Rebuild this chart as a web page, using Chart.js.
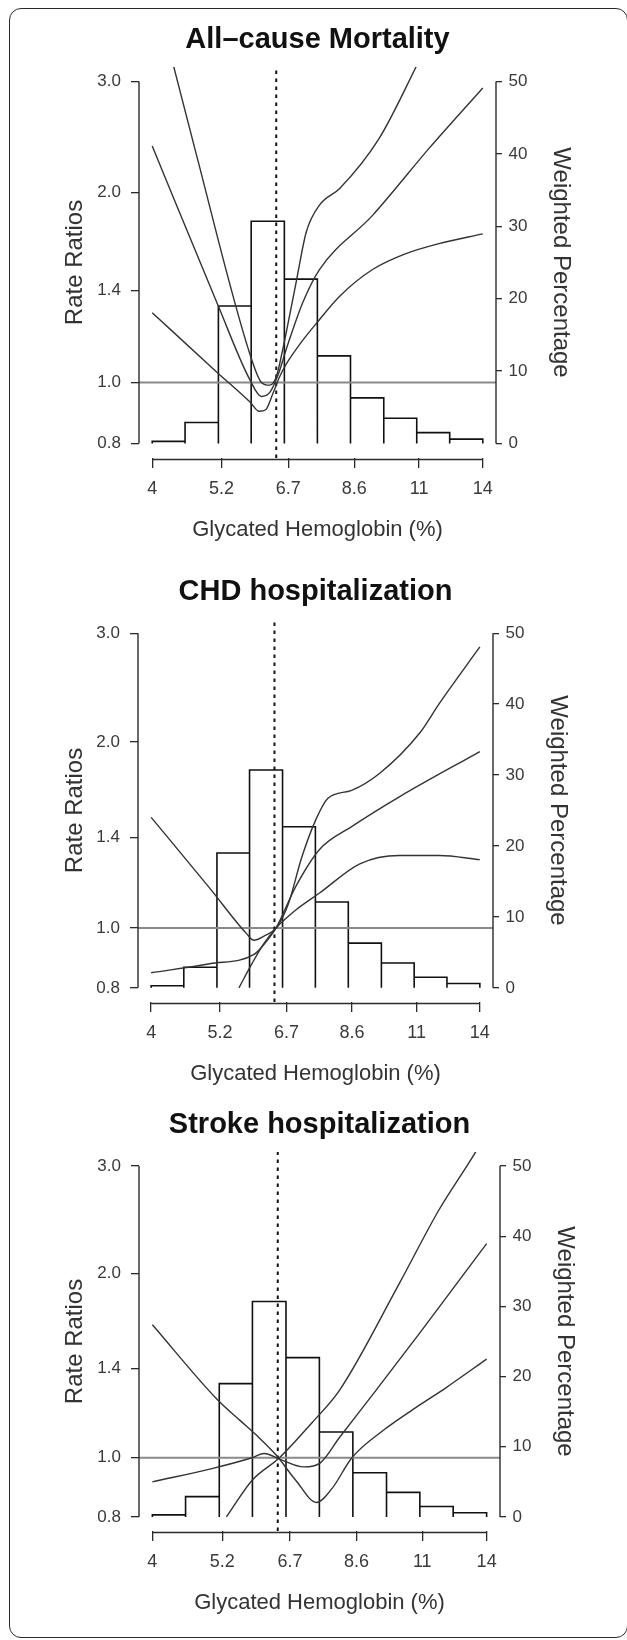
<!DOCTYPE html>
<html>
<head>
<meta charset="utf-8">
<script src="https://cdn.jsdelivr.net/npm/chart.js@4.4.1/dist/chart.umd.min.js"></script>
<style>
  html, body { margin: 0; padding: 0; background: #fff; }
  body { width: 627px; height: 1640px; position: relative; overflow: hidden; }
  #marco { position: absolute; left: 9px; top: 8px; width: 619px; height: 1630px;
           border: 1.5px solid #2a2a2a; border-radius: 12px; box-sizing: border-box; }
  canvas { position: absolute; left: 0; }
</style>
</head>
<body>
<div id="marco"></div>
<canvas id="panel1"></canvas>
<canvas id="panel2"></canvas>
<canvas id="panel3"></canvas>
<script>
// Ejes compartidos
const X_TICKS = [4, 5.2, 6.7, 8.6, 11, 14];
const X_LABELS = ["4", "5.2", "6.7", "8.6", "11", "14"];
const RR_TICKS = [0.8, 1.0, 1.4, 2.0, 3.0];
const RR_LABELS = ["0.8", "1.0", "1.4", "2.0", "3.0"];
const PCT_TICKS = [0, 10, 20, 30, 40, 50];

// Histograma (porcentaje ponderado por intervalo de HbA1c)
const HIST_EDGES = [4.0, 4.53, 5.14, 5.82, 6.6, 7.48, 8.48, 9.62, 10.9, 12.35, 14.0];
const HIST_PCT = [0.3, 2.9, 19.0, 30.7, 22.7, 12.1, 6.3, 3.5, 1.5, 0.6];
const HBA1C_REF = 6.4;

// All-cause Mortality
const MORT_INF_X = [4.0, 5.1, 5.8, 6.0, 6.15, 6.32, 6.48, 6.65, 7.0, 7.45, 8.14, 9.22, 10.46, 11.86, 14.0];
const MORT_INF_Y = [1.29, 1.04, 0.93, 0.90, 0.905, 0.96, 1.02, 1.07, 1.15, 1.24, 1.37, 1.51, 1.60, 1.66, 1.72];
const MORT_EST_X = [4.0, 5.14, 5.79, 6.05, 6.25, 6.45, 6.65, 7.08, 7.54, 9.22, 11.42, 14.0];
const MORT_EST_Y = [2.37, 1.32, 1.01, 0.95, 0.965, 1.03, 1.13, 1.34, 1.51, 1.84, 2.35, 2.93];
const MORT_SUP_X = [4.0, 4.7, 5.79, 6.05, 6.24, 6.4, 6.55, 6.9, 7.17, 7.54, 8.14, 9.46, 10.9, 11.6];
const MORT_SUP_Y = [4.3, 2.35, 1.11, 1.0, 0.99, 1.02, 1.12, 1.44, 1.73, 1.91, 2.03, 2.44, 3.18, 3.6];

// CHD hospitalization
const CHD_SUP_X = [4.0, 5.0, 5.75, 5.92, 6.15, 6.44, 6.74, 7.1, 7.5, 7.84, 8.59, 9.56, 11.14, 12.0, 14.0];
const CHD_SUP_Y = [1.51, 1.16, 0.98, 0.955, 0.97, 1.0, 1.09, 1.30, 1.50, 1.62, 1.67, 1.78, 2.07, 2.31, 2.85];
const CHD_EST_X = [4.0, 5.0, 5.92, 6.2, 6.44, 6.95, 7.6, 8.6, 10.3, 14.0];
const CHD_EST_Y = [0.846, 0.875, 0.906, 0.95, 1.0, 1.17, 1.34, 1.46, 1.63, 1.93];
const CHD_INF_X = [5.59, 5.88, 6.15, 6.44, 6.95, 7.61, 8.86, 10.3, 12.0, 14.0];
const CHD_INF_Y = [0.80, 0.877, 0.944, 1.0, 1.07, 1.14, 1.27, 1.31, 1.31, 1.29];

// Stroke hospitalization
const ICTUS_A_X = [4.0, 5.12, 5.56, 5.9, 6.36, 6.85, 7.4, 7.84, 8.45, 9.52, 10.9, 12.0, 14.0];
const ICTUS_A_Y = [1.65, 1.24, 1.15, 1.09, 1.01, 0.918, 0.845, 0.89, 1.0, 1.11, 1.22, 1.30, 1.45];
const ICTUS_EST_X = [4.0, 5.0, 5.81, 6.08, 6.44, 7.06, 7.5, 8.07, 9.2, 10.9, 14.0];
const ICTUS_EST_Y = [0.913, 0.96, 1.0, 1.016, 0.995, 0.966, 0.98, 1.08, 1.28, 1.60, 2.24];
const ICTUS_B_X = [5.28, 5.81, 6.44, 7.27, 8.07, 10.1, 11.7, 13.4, 14.0];
const ICTUS_B_Y = [0.80, 0.918, 1.0, 1.14, 1.29, 1.93, 2.54, 3.15, 3.4];

const FUENTE = "'Liberation Sans', Arial, Helvetica, sans-serif";
const ANCHO = 627;
const MARGEN_SUP = 67;
const MARGEN_INF = 87;

// rango con 4% extra por lado en escala logarítmica (como R)
function rangoLog(a, b) {
  const d = Math.log(b / a) * 0.04;
  return [a * Math.exp(-d), b * Math.exp(d)];
}
const [X_MIN, X_MAX] = rangoLog(X_TICKS[0], X_TICKS[X_TICKS.length - 1]);
const [RR_MIN, RR_MAX] = rangoLog(RR_TICKS[0], RR_TICKS[RR_TICKS.length - 1]);
const PCT_MIN = -2;
const PCT_MAX = 52;

const PANELES = [
  {
    id: "panel1", titulo: "All\u2013cause Mortality",
    top: 67, bottom: 458, left: 139, right: 496,
    curvas: [[MORT_INF_X, MORT_INF_Y], [MORT_EST_X, MORT_EST_Y], [MORT_SUP_X, MORT_SUP_Y]],
  },
  {
    id: "panel2", titulo: "CHD hospitalization",
    top: 619, bottom: 1002, left: 138, right: 493,
    curvas: [[CHD_INF_X, CHD_INF_Y], [CHD_EST_X, CHD_EST_Y], [CHD_SUP_X, CHD_SUP_Y]],
  },
  {
    id: "panel3", titulo: "Stroke hospitalization",
    top: 1152, bottom: 1531, left: 139, right: 500,
    curvas: [[ICTUS_A_X, ICTUS_A_Y], [ICTUS_EST_X, ICTUS_EST_Y], [ICTUS_B_X, ICTUS_B_Y]],
  },
];

// Ejes al estilo R: la línea va sólo del primer al último tick
const ejesEstiloR = {
  id: "ejesEstiloR",
  afterDraw(chart) {
    const { ctx, chartArea, scales } = chart;
    ctx.save();
    ctx.strokeStyle = "#2b2b2b";
    ctx.lineWidth = 1.4;
    ctx.beginPath();
    ctx.moveTo(chartArea.left, scales.y.getPixelForValue(RR_TICKS[0]));
    ctx.lineTo(chartArea.left, scales.y.getPixelForValue(RR_TICKS[RR_TICKS.length - 1]));
    ctx.moveTo(chartArea.right, scales.y2.getPixelForValue(PCT_TICKS[0]));
    ctx.lineTo(chartArea.right, scales.y2.getPixelForValue(PCT_TICKS[PCT_TICKS.length - 1]));
    const yEje = chartArea.bottom + 1.5;
    ctx.moveTo(scales.x.getPixelForValue(X_TICKS[0]), yEje);
    ctx.lineTo(scales.x.getPixelForValue(X_TICKS[X_TICKS.length - 1]), yEje);
    ctx.stroke();
    ctx.restore();
  },
};

function contornoHistograma() {
  const puntos = [];
  HIST_PCT.forEach((pct, i) => {
    puntos.push(
      { x: HIST_EDGES[i], y: 0 },
      { x: HIST_EDGES[i], y: pct },
      { x: HIST_EDGES[i + 1], y: pct },
      { x: HIST_EDGES[i + 1], y: 0 }
    );
  });
  return puntos;
}

function dibujarPanel(panel) {
  const lienzo = document.getElementById(panel.id);
  const alto = panel.bottom - panel.top + MARGEN_SUP + MARGEN_INF;
  lienzo.width = ANCHO;
  lienzo.height = alto;
  lienzo.style.top = panel.top - MARGEN_SUP + "px";

  const curvas = panel.curvas.map(([xs, ys]) => ({
    data: xs.map((x, i) => ({ x, y: ys[i] })),
    yAxisID: "y",
    borderColor: "#333",
    borderWidth: 1.4,
    pointRadius: 0,
    fill: false,
    cubicInterpolationMode: "monotone",
  }));

  const datasets = [
    ...curvas,
    {
      // línea vertical punteada en la HbA1c de referencia
      data: [{ x: HBA1C_REF, y: RR_MIN }, { x: HBA1C_REF, y: RR_MAX }],
      yAxisID: "y",
      borderColor: "#111",
      borderWidth: 2,
      borderDash: [3.5, 4.5],
      pointRadius: 0,
      tension: 0,
    },
    {
      // línea gris en razón de tasas = 1
      data: [{ x: X_MIN, y: 1 }, { x: X_MAX, y: 1 }],
      yAxisID: "y",
      borderColor: "#8a8a8a",
      borderWidth: 2,
      pointRadius: 0,
      tension: 0,
    },
    {
      data: contornoHistograma(),
      yAxisID: "y2",
      borderColor: "#111",
      borderWidth: 1.6,
      pointRadius: 0,
      tension: 0,
      fill: false,
    },
  ];

  new Chart(lienzo, {
    type: "line",
    data: { datasets },
    plugins: [ejesEstiloR],
    options: {
      responsive: false,
      animation: false,
      devicePixelRatio: 1,
      layout: { padding: 0, autoPadding: false },
      plugins: {
        legend: { display: false },
        tooltip: { enabled: false },
        title: {
          display: true,
          text: panel.titulo,
          fullSize: false,
          color: "#111",
          font: { family: FUENTE, size: 29, weight: "bold" },
          padding: { top: 22.8, bottom: 9.4 },
        },
      },
      scales: {
        x: {
          type: "logarithmic",
          position: "bottom",
          min: X_MIN,
          max: X_MAX,
          afterBuildTicks: (s) => { s.ticks = X_TICKS.map((v) => ({ value: v })); },
          afterFit: (s) => { s.height = MARGEN_INF; },
          border: { display: false },
          grid: { drawOnChartArea: false, drawTicks: true, tickLength: 10, color: "#2b2b2b", lineWidth: 1.3 },
          ticks: {
            callback: (v, i) => X_LABELS[i],
            autoSkip: false, maxRotation: 0, minRotation: 0,
            padding: 10.2, color: "#3a3a3a",
            font: { family: FUENTE, size: 18 },
          },
          title: {
            display: true, text: "Glycated Hemoglobin (%)", color: "#333",
            font: { family: FUENTE, size: 22 }, padding: { top: 0, bottom: 1.6 },
          },
        },
        y: {
          type: "logarithmic",
          position: "left",
          min: RR_MIN,
          max: RR_MAX,
          afterBuildTicks: (s) => { s.ticks = RR_TICKS.map((v) => ({ value: v })); },
          afterFit: (s) => { s.width = panel.left; },
          border: { display: false },
          grid: { drawOnChartArea: false, drawTicks: true, tickLength: 8, color: "#2b2b2b", lineWidth: 1.3 },
          ticks: {
            callback: (v, i) => RR_LABELS[i],
            autoSkip: false, padding: 10, color: "#3a3a3a",
            font: { family: FUENTE, size: 17 },
          },
          title: {
            display: true, text: "Rate Ratios", color: "#333",
            font: { family: FUENTE, size: 24 }, padding: { top: 61, bottom: 0 },
          },
        },
        y2: {
          type: "linear",
          position: "right",
          min: PCT_MIN,
          max: PCT_MAX,
          afterBuildTicks: (s) => { s.ticks = PCT_TICKS.map((v) => ({ value: v })); },
          afterFit: (s) => { s.width = ANCHO - panel.right; },
          border: { display: false },
          grid: { drawOnChartArea: false, drawTicks: true, tickLength: 6, color: "#2b2b2b", lineWidth: 1.3 },
          ticks: {
            callback: (v) => String(v),
            autoSkip: false, padding: 6.6, color: "#3a3a3a",
            font: { family: FUENTE, size: 17 },
          },
          title: {
            display: true, text: "Weighted Percentage", color: "#333",
            font: { family: FUENTE, size: 24 }, padding: { top: ANCHO - 14.4 - panel.right - 65, bottom: 0 },
          },
        },
      },
    },
  });
}

PANELES.forEach(dibujarPanel);
</script>
</body>
</html>
